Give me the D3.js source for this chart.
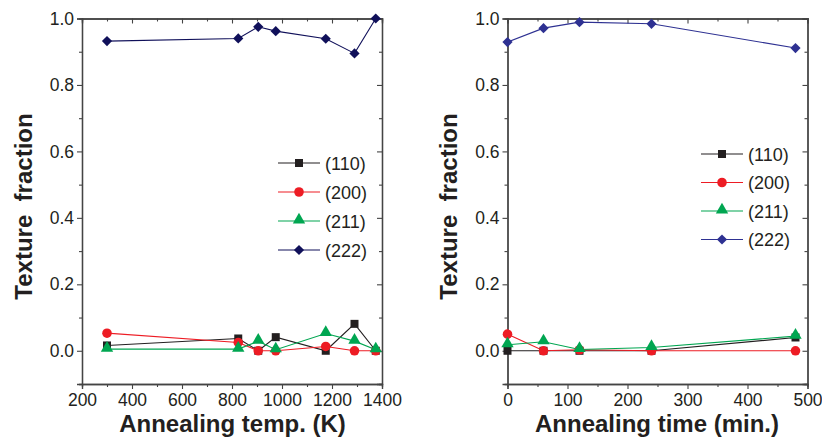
<!DOCTYPE html>
<html><head><meta charset="utf-8">
<script src="https://cdn.jsdelivr.net/npm/d3@7"></script>
<style>body{margin:0;background:#fff}svg{display:block;font-family:"Liberation Sans",Arial,sans-serif}</style>
</head><body><svg id="c" width="822" height="438"></svg>
<script>
const seriesNames = ["(110)", "(200)", "(211)", "(222)"];
// Left panel: annealing temperature (K)
const tempX = [300, 825, 905, 975, 1175, 1290, 1375];
const temp110 = [0.016, 0.037, 0.0, 0.041, 0.0, 0.081, 0.0];
const temp200 = [0.053, 0.025, 0.0, 0.0, 0.013, 0.0, 0.0];
const temp211 = [0.005, 0.005, 0.029, 0.003, 0.052, 0.029, 0.003];
const temp222 = [0.932, 0.940, 0.975, 0.962, 0.939, 0.895, 1.0];
// Right panel: annealing time (min.)
const timeX = [0, 60, 120, 240, 480];
const time110 = [0.0, 0.0, 0.0, 0.0, 0.04];
const time200 = [0.05, 0.0, 0.003, 0.0, 0.0];
const time211 = [0.018, 0.027, 0.004, 0.01, 0.044];
const time222 = [0.929, 0.971, 0.989, 0.984, 0.911];
const yTicks = [0.0, 0.2, 0.4, 0.6, 0.8, 1.0];
const tempTicks = [200, 400, 600, 800, 1000, 1200, 1400];
const timeTicks = [0, 100, 200, 300, 400, 500];

const svg = d3.select("#c");
const colors = ["#231f20", "#ed1c24", "#00a651", null];
const diamond = { draw(ctx, size) { const r = Math.sqrt(size / 2); ctx.moveTo(0, -r); ctx.lineTo(r, 0); ctx.lineTo(0, r); ctx.lineTo(-r, 0); ctx.closePath(); } };
const shapes = [d3.symbolSquare, d3.symbolCircle, d3.symbolTriangle, diamond];
const sizes = [64, 72, 66, 52];

function panel(o) {
  const x = d3.scaleLinear().domain(o.xDomain).range([o.left, o.right]);
  const y = d3.scaleLinear().domain([-0.1, 1.0]).range([384, 18.5]);
  const g = svg.append("g");
  const axisCol = "#444";
  g.append("g").attr("transform", `translate(0,384)`)
    .call(d3.axisBottom(x).tickValues(o.xTicks).tickSize(5).tickPadding(4.5).tickFormat(d3.format("d")));
  g.append("g").attr("transform", `translate(0,384)`)
    .call(d3.axisBottom(x).tickValues(o.xMinor).tickSize(3).tickFormat(""));
  g.append("g").attr("transform", `translate(0,18.5)`)
    .call(d3.axisBottom(x).tickValues(o.xTicks).tickSize(5).tickFormat(""));
  g.append("g").attr("transform", `translate(0,18.5)`)
    .call(d3.axisBottom(x).tickValues(o.xMinor).tickSize(3).tickFormat(""));
  g.append("g").attr("transform", `translate(${o.left},0)`)
    .call(d3.axisLeft(y).tickValues(yTicks).tickSize(5).tickPadding(3).tickFormat(d3.format(".1f")));
  g.append("g").attr("transform", `translate(${o.left},0)`)
    .call(d3.axisLeft(y).tickValues([-0.1, 0.1, 0.3, 0.5, 0.7, 0.9]).tickSize(3).tickFormat(""));
  g.append("g").attr("transform", `translate(${o.right},0)`)
    .call(d3.axisLeft(y).tickValues(yTicks).tickSize(5).tickFormat(""));
  g.append("g").attr("transform", `translate(${o.right},0)`)
    .call(d3.axisLeft(y).tickValues([0.1, 0.3, 0.5, 0.7, 0.9]).tickSize(3).tickFormat(""));
  g.selectAll(".domain").attr("stroke", axisCol).attr("stroke-width", 1.3);
  g.selectAll(".tick line").attr("stroke", axisCol).attr("stroke-width", 1.1);
  g.selectAll(".tick text").attr("font-size", 17.5).attr("fill", "#231f20")
    .attr("font-family", "'Liberation Sans',Arial,sans-serif");

  const line = d3.line().x((d, i) => x(o.xs[i])).y(d => y(d));
  o.series.forEach((vals, k) => {
    const col = k === 3 ? o.blue : colors[k];
    g.append("path").attr("d", line(vals)).attr("fill", "none").attr("stroke", col).attr("stroke-width", 1.1);
  });
  o.series.forEach((vals, k) => {
    const col = k === 3 ? o.blue : colors[k];
    const sym = d3.symbol().type(shapes[k]).size(sizes[k]);
    g.selectAll(null).data(vals).enter().append("path")
      .attr("d", sym)
      .attr("transform", (d, i) => `translate(${x(o.xs[i])},${y(d) + (k === 2 ? -1 : 0)})`)
      .attr("fill", col);
  });
  seriesNames.forEach((nm, k) => {
    const col = k === 3 ? o.blue : colors[k];
    const ly = o.legY + k * o.legStep;
    g.append("line").attr("x1", o.legX).attr("x2", o.legX + 42).attr("y1", ly).attr("y2", ly)
      .attr("stroke", col).attr("stroke-width", 1.1);
    g.append("path").attr("d", d3.symbol().type(shapes[k]).size(sizes[k])())
      .attr("transform", `translate(${o.legX + 21},${ly + (k === 2 ? -1 : 0)})`).attr("fill", col);
    g.append("text").attr("x", o.legX + 47).attr("y", ly + 6.5).attr("font-size", 18)
      .attr("fill", "#231f20").text(nm);
  });
  g.append("text").attr("x", o.xTitleX).attr("y", 431.5).attr("text-anchor", "middle")
    .attr("font-size", 24).attr("font-weight", "bold").attr("fill", "#231f20").text(o.xTitle);
  g.append("text").attr("transform", `translate(${o.yTitleX},${o.yTitleY}) rotate(-90)`)
    .attr("text-anchor", "middle").attr("font-size", 24).attr("font-weight", "bold")
    .attr("fill", "#231f20").style("white-space", "pre")
    .text("Texture  fraction");
}

panel({
  left: 82, right: 382, xDomain: [200, 1400], xTicks: tempTicks,
  xMinor: [300, 500, 700, 900, 1100, 1300],
  xs: tempX, series: [temp110, temp200, temp211, temp222], blue: "#10105a",
  legX: 278, legY: 163, legStep: 29,
  xTitle: "Annealing temp. (K)", xTitleX: 232.5, yTitleX: 31.5, yTitleY: 206.5
});
panel({
  left: 507.5, right: 807.5, xDomain: [0, 500], xTicks: timeTicks,
  xMinor: [50, 150, 250, 350, 450],
  xs: timeX, series: [time110, time200, time211, time222], blue: "#2e3192",
  legX: 701, legY: 154, legStep: 28.5,
  xTitle: "Annealing time (min.)", xTitleX: 657, yTitleX: 456.5, yTitleY: 206.5
});
</script></body></html>
